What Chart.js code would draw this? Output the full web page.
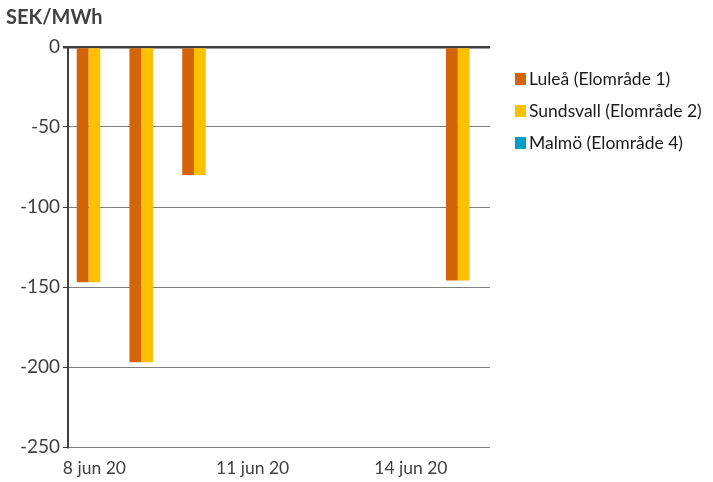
<!DOCTYPE html>
<html>
<head>
<meta charset="utf-8">
<script src="https://cdn.jsdelivr.net/npm/chart.js@4.4.0/dist/chart.umd.min.js"></script>
<style>
  html, body { margin: 0; padding: 0; background: #fff; }
  #wrap { width: 713px; height: 482px; }
</style>
</head>
<body>
<div id="wrap"><canvas id="myChart" width="713" height="482"></canvas></div>
<script>
const days = ['8 jun 20', '9 jun 20', '10 jun 20', '11 jun 20', '12 jun 20', '13 jun 20', '14 jun 20', '15 jun 20'];
const lulea = [-147, -197, -80, 0, 0, 0, 0, -146];
const sundsvall = [-147, -197, -80, 0, 0, 0, 0, -146];
const malmo = [0, 0, 0, 0, 0, 0, 0, 0];
const yTicks = [0, -50, -100, -150, -200, -250];
const unitTitle = 'SEK/MWh';

const font = "Lato, 'Open Sans', sans-serif";

function makeSet(label, values, color) {
    return {
        label: label,
        data: values,
        backgroundColor: color,
        borderWidth: 0,
        categoryPercentage: 0.67,
        barPercentage: 1.0
    };
}

// title top-left and legend on the right, placed like the original
const sideText = {
    id: 'sideText',
    afterDraw(chart) {
        const c = chart.ctx;
        c.save();
        c.fillStyle = '#404040';
        c.font = 'bold 20px ' + font;
        c.textBaseline = 'middle';
        c.textAlign = 'left';
        c.fillText(unitTitle, 6, 18);

        const left = chart.chartArea.right + 25;
        c.font = '17.5px ' + font;
        chart.data.datasets.forEach((ds, i) => {
            const y = 79 + i * 32;
            c.fillStyle = ds.backgroundColor;
            c.fillRect(left, y - 6, 11, 12);
            c.fillStyle = '#1a1a1a';
            c.fillText(ds.label, left + 14, y);
        });
        c.restore();
    }
};

var ctx = document.getElementById('myChart').getContext('2d');

new Chart(ctx, {
    type: 'bar',
    data: {
        labels: days,
        datasets: [
            makeSet('Luleå (Elområde 1)', lulea, '#D4640A'),
            makeSet('Sundsvall (Elområde 2)', sundsvall, '#FFC000'),
            makeSet('Malmö (Elområde 4)', malmo, '#00A0C6')
        ]
    },
    options: {
        responsive: false,
        animation: false,
        layout: { padding: { left: 0, right: 223, top: 47, bottom: 0 } },
        plugins: {
            legend: { display: false },
            tooltip: { enabled: false }
        },
        scales: {
            x: {
                grid: { display: false },
                border: { display: false },
                ticks: {
                    color: '#404040',
                    font: { family: font, size: 17.5 },
                    maxRotation: 0,
                    autoSkip: false,
                    padding: 3,
                    callback: function (v, i) { return i % 3 === 0 ? days[i] : ''; }
                }
            },
            y: {
                min: yTicks[yTicks.length - 1],
                max: yTicks[0],
                afterFit: function (s) { s.width = 68; },
                afterBuildTicks: function (s) { s.ticks = yTicks.map(v => ({ value: v })); },
                border: { display: true, color: '#404040', width: 2 },
                grid: {
                    color: function (c) { return c.tick && c.tick.value === 0 ? '#404040' : '#7f7f7f'; },
                    lineWidth: function (c) { return c.tick && c.tick.value === 0 ? 2.5 : 1; },
                    tickColor: '#404040',
                    tickLength: 5,
                    drawTicks: true
                },
                ticks: {
                    color: '#404040',
                    font: { family: font, size: 19 },
                    padding: 3
                }
            }
        }
    },
    plugins: [sideText]
});
</script>
</body>
</html>
